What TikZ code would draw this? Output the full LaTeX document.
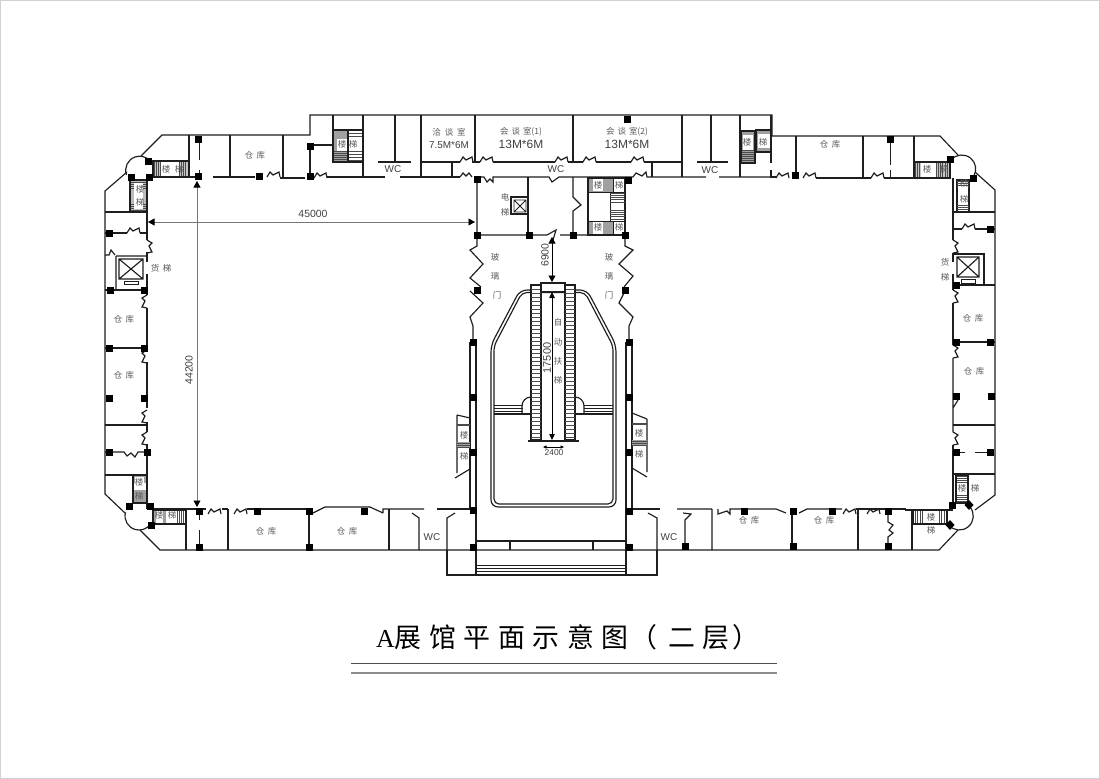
\documentclass[tikz,border=0pt]{standalone}
\usetikzlibrary{arrows.meta}
\usepackage{fontspec}
\setmainfont{Liberation Sans}
\newfontfamily\cjk{Noto Sans CJK SC}
\newfontfamily\cjktitle[LetterSpace=28]{Noto Sans CJK SC}
\newfontfamily\serifA{Liberation Serif}
\definecolor{ink}{HTML}{1E1E1E}
\definecolor{txt}{HTML}{5A5A5A}
\definecolor{dim}{HTML}{777777}
\definecolor{stairgray}{HTML}{A0A0A0}
\tikzset{
 wall/.style={draw=ink,line width=1.15bp,line join=miter},
 thin wall/.style={draw=ink,line width=0.8bp},
 dimline/.style={draw=dim,line width=0.8bp},
 tread/.style={draw=ink!80,line width=0.45bp},
 lab/.style={inner sep=0pt,text=txt,font=\fontsize{8.5}{9}\selectfont\cjk},
 labn/.style={inner sep=0pt,text=black!75,font=\fontsize{10}{10}\selectfont},
 labd/.style={inner sep=0pt,text=black!75,font=\fontsize{10.5}{10.5}\selectfont},
 labs/.style={inner sep=0pt,text=black!75,font=\fontsize{8.5}{9}\selectfont},
 labb/.style={inner sep=0pt,text=black!75,font=\fontsize{12}{12}\selectfont},
 bigtip/.style={-{Triangle[black,length=6.5bp,width=7bp]}},
}
\newcommand{\col}[2]{\fill[black] (#1-3.5,#2-3.5) rectangle ++(7,7);}
\newcommand{\hdoor}[3]{\draw[wall] (#1,#2) -- ++(3,-5*#3) -- ++(3,3*#3) -- ++(6,-3*#3) -- ++(1,5*#3);}
\newcommand{\vdoor}[3]{\draw[wall] (#1,#2) -- ++(-5*#3,3) -- ++(3*#3,3) -- ++(-3*#3,6) -- ++(5*#3,1);}
\newcommand{\hhatch}[5]{\foreach \yy in {#3,#5,...,#4} \draw[tread] (#1,\yy) -- (#2,\yy);}
\newcommand{\vhatch}[5]{\foreach \xx in {#1,#5,...,#2} \draw[tread] (\xx,#3) -- (\xx,#4);}
\newcommand{\ck}{仓\kern3.5bp 库}
\begin{document}
\begin{tikzpicture}[x=1bp,y=-1bp]
\useasboundingbox (0,0) rectangle (1100,779);
\fill[white] (0,0) rectangle (1100,779);
\draw[black!18,line width=0.8bp] (0.4,0.4) rectangle (1099.6,778.6);

% ---------- outer shell
\draw[wall] (127,172) -- (105,191) -- (105,494) -- (125,513);
\draw[wall] (141,156) -- (162,135) -- (310,135) -- (310,115) -- (772,115) -- (772,136) -- (940,136) -- (958,155);
\draw[wall] (975,172) -- (995,190) -- (995,495) -- (975,510);
\draw[wall] (958,530) -- (939,550) -- (160,550) -- (140,530);
% corner drums
\draw[wall] (126.5,175) arc[start angle=200,end angle=45,radius=14bp];
\draw[wall] (951,160) arc[start angle=140,end angle=-30,radius=14bp];
\draw[wall] (125.5,512.4) arc[start angle=165,end angle=323,radius=14bp];
\draw[wall] (970,507) arc[start angle=40,end angle=-140,radius=14bp];

% ---------- top-left wing
\draw[wall] (147,177) -- (198,177) (189,135) -- (189,177);
\fill[stairgray!60] (153,161) rectangle (189,177);
\vhatch{154}{164}{162}{176}{156.2}
\vhatch{179}{188}{162}{176}{181.2}
\fill[white] (161,162) rectangle (179,176);
\draw[wall] (153,161) rectangle (189,177);
\draw[thin wall] (199,139) -- (199,160) (199,170) -- (199,177);
\draw[wall] (213,177) -- (255,177) (230,135) -- (230,177) (283,135) -- (283,178);
\hdoor{267}{177}{1}
\draw[wall] (280,178) -- (305,178);
\draw[wall] (310,146) -- (310,177) (310,145) -- (333,145);
\hdoor{314}{178}{1}
\draw[wall] (327,177) -- (385,177) (400,177) -- (460,177);
\draw[wall] (333,115) -- (333,162) (363,115) -- (363,177) (395,115) -- (395,162) (378,162) -- (411,162) (421,115) -- (421,177);
\fill[stairgray] (333,130) rectangle (348,162);
\hhatch{348}{363}{130}{162}{133}
\fill[white] (337,139) rectangle (347,151);
\fill[white] (349,139) rectangle (362,151);
\hhatch{333}{348}{151}{162}{153}
\draw[wall] (333,130) rectangle (348,162) (348,130) rectangle (363,162);

% ---------- central top band
\draw[wall] (421,162) -- (460,162) (472,162) -- (480,162) (493,162) -- (555,162) (568,162) -- (583,162) (596,162) -- (631,162) (644,162) -- (682,162);
\hdoor{460}{162}{1}
\hdoor{480}{162}{1}
\hdoor{555}{162}{1}
\hdoor{583}{162}{1}
\hdoor{631}{162}{1}
\draw[wall] (452,162) -- (452,177) (475,115) -- (475,162) (573,115) -- (573,162) (682,115) -- (682,177) (652,162) -- (652,177);
\draw[wall] (460,177) -- ++(3,-4) -- ++(3,3) -- ++(3,-3) -- (472,177) (477,177) -- (484,177);
\draw[wall] (484,177) -- ++(3,5) -- ++(3,-3) -- ++(3,3) -- (493,177) -- (549,177) -- ++(3,5) -- ++(7,-5) -- (633,177);
\draw[wall] (633,177) -- ++(3,-4) -- ++(6,3) -- ++(4,-4) -- (647,177) -- (706,177) (719,177) -- (771,177);

% central block
\draw[wall] (477,177) -- (477,235) -- (547,235) -- (556,230) -- (553,240) (560,235) -- (625,235) -- (625,177);
\draw[wall] (528,177) -- (528,235);
\draw[wall] (573,177) -- (573,197) -- (581,205) -- (573,211) -- (573,235);
\draw[wall] (511,197) rectangle (528,214);
\draw[thin wall] (514,200) rectangle (526,212) (514,200) -- (526,212) (526,200) -- (514,212);
% central stair
\fill[stairgray] (588,178) rectangle (613,192);
\fill[stairgray] (588,221) rectangle (613,235);
\draw[wall] (588,178) rectangle (625,235);
\draw[thin wall] (613,178) -- (613,192) (613,221) -- (613,235) (610,192) -- (610,221) (588,192) -- (625,192) (588,221) -- (625,221);
\hhatch{610}{625}{193}{203}{195.2}
\hhatch{610}{625}{210}{220}{212.2}
\fill[white] (593,179) rectangle (603,191);
\fill[white] (593,222) rectangle (603,234);

% glazed doors
\draw[wall] (477,235) -- (477,246) -- (470,250) -- (483,264) -- (470,278) -- (481,287);
\draw[wall] (470,291) -- (483,303) -- (470,317) -- (473,326) -- (473,342);
\draw[wall] (625,235) -- (625,246) -- (633,250) -- (619,264) -- (633,276) -- (624,287);
\draw[wall] (625,291) -- (619,303) -- (633,317) -- (629,326) -- (629,342);

% central double piers
\draw[wall] (470,342) -- (470,510) (476,342) -- (476,575);
\draw[wall] (626,342) -- (626,575) (632,342) -- (632,510);
\draw[wall] (447,550) -- (447,575) -- (657,575) -- (657,550);
\draw[wall] (476,541) -- (626,541) (510,541) -- (510,550) (593,541) -- (593,550);
\draw[thin wall] (476,565) -- (626,565) (476,568) -- (626,568) (476,571) -- (626,571);

% hall double outline
\draw[wall,rounded corners=7bp] (491,345) -- (491,507) -- (616,507) -- (616,345) -- (587,290) -- (520,290) -- cycle;
\draw[wall,rounded corners=5bp] (494,346) -- (494,504) -- (613,504) -- (613,346) -- (585,292.5) -- (522,292.5) -- cycle;
% escalator
\fill[white] (531,285) rectangle (541,440) (565,285) rectangle (575,440);
\draw[wall] (531,285) rectangle (541,440) (565,285) rectangle (575,440);
\foreach \yy in {289,293,...,437} {\draw[tread,line width=0.9bp] (531,\yy) -- (541,\yy) (565,\yy) -- (575,\yy);}
\fill[white] (541,283) rectangle (565,292);
\draw[wall] (541,283) rectangle (565,292);
\draw[wall] (528,441) -- (579,441);
% landings
\foreach \yy in {405,408,411} {\draw[thin wall] (494,\yy) -- (523,\yy) (584,\yy) -- (613,\yy);}
\draw[wall] (494,414) -- (531,414) (575,414) -- (613,414);
\draw[wall] (531,397) arc[start angle=90,end angle=180,radius=9bp] -- (522,414);
\draw[wall] (575,397) arc[start angle=90,end angle=0,radius=9bp] -- (584,414);
% side stairs
\draw[wall] (457,415) -- (470,418) (457,415) -- (457,473) (455,478) -- (470,469);
\hhatch{457}{470}{424}{427}{425.6}
\fill[stairgray] (457,442) rectangle (470,448);
\hhatch{457}{470}{443}{447}{445}
\draw[wall] (647,419) -- (632,413) (647,419) -- (647,472) (647,477) -- (632,468);
\hhatch{632}{647}{423}{426}{424.6}
\fill[stairgray] (632,440) rectangle (647,446);
\hhatch{632}{647}{441}{445}{443}

% ---------- top-right wing
\draw[wall] (771,115) -- (771,163) (740,115) -- (740,177);
\fill[stairgray] (741,131) rectangle (755,163);
\fill[stairgray] (756,130) rectangle (771,152);
\hhatch{741}{755}{150}{163}{152}
\fill[white] (743,135) rectangle (753,150);
\fill[white] (758,134) rectangle (770,148);
\draw[wall] (741,131) rectangle (755,163) (756,130) rectangle (771,152);
\draw[wall] (711,115) -- (711,162) (697,162) -- (728,162);
\draw[wall] (771,170) -- (771,177) -- (776,177);
\hdoor{776}{178}{1}
\draw[wall] (796,136) -- (796,178);
\hdoor{803}{178}{1}
\draw[wall] (816,178) -- (871,178);
\hdoor{871}{178}{1}
\draw[wall] (884,178) -- (914,178) (863,136) -- (863,178);
\draw[thin wall] (890,139) -- (890,165) (890,170) -- (890,178);
\draw[wall] (914,136) -- (914,178);
\fill[stairgray!60] (914,162) rectangle (950,178);
\vhatch{915}{922}{163}{177}{917.2}
\vhatch{936}{949}{163}{177}{938.2}
\fill[white] (921,163) rectangle (936,177);
\draw[wall] (914,162) rectangle (950,178);

% ---------- right wing
\draw[wall] (953,178) -- (953,240);
\vdoor{953}{240}{-1}
\draw[wall] (953,253) -- (953,262) (953,274) -- (953,290);
\vdoor{953}{290}{-1}
\draw[wall] (953,303) -- (953,345);
\vdoor{953}{345}{-1}
\draw[wall] (953,358) -- (953,408) (953,408) -- (958,400) (953,408) -- (953,432);
\vdoor{953}{432}{-1}
\draw[wall] (953,445) -- (953,509);
\draw[wall] (957,180) rectangle (969,212);
\hhatch{957}{969}{181}{187}{183}
\hhatch{957}{969}{205}{212}{207}
\fill[white] (958,187) rectangle (968,205);
\draw[wall] (953,212) -- (995,212);
\draw[wall] (953,229) -- (962,229);
\hdoor{962}{229}{1}
\draw[wall] (975,229) -- (995,229);
\draw[wall] (953,254) -- (984,254) -- (984,285) (953,285) -- (995,285);
\draw[wall] (957,257) rectangle (979,277) (957,257) -- (979,277) (979,257) -- (957,277);
\draw[thin wall] (961,279) rectangle (975,283);
\draw[wall] (953,342) -- (995,342) (953,425) -- (995,425) (953,474) -- (995,474);
\draw[thin wall] (960,452) -- (965,452) (975,452) -- (990,452);
\hhatch{956}{968}{476}{483}{478}
\hhatch{956}{968}{495}{503}{497}
\fill[white] (957,483) rectangle (967,495);
\draw[wall] (956,475) rectangle (968,503);

% ---------- bottom-right wing
\draw[wall] (677,509) -- (712,509) (712,509) -- (712,550) (718,509) -- (718,514) -- (727,511) -- (730,514) -- (730,509) -- (776,509) -- (786,513);
\draw[wall] (799,513) -- (807,509) -- (842,509);
\hdoor{843}{514}{1}
\draw[wall] (856,509) -- (906,509) (858,509) -- (858,550);
\draw[wall] (792,509) -- (792,550);
\draw[wall] (905,510) -- (953,510);
\draw[wall] (888,515) -- (888,522) -- (893,525) -- (889,530) -- (893,533) -- (888,537) -- (888,550);
\hdoor{867}{514}{1}
\draw[wall] (912,510) -- (912,550);
\vhatch{915}{924}{511}{523}{917.4}
\vhatch{939}{947}{511}{523}{941.4}
\fill[white] (925,511) rectangle (938,523);
\draw[wall] (913,510) rectangle (947,524);

% ---------- bottom centre WC
\draw[wall] (632,509) -- (660,509);
\draw[wall] (648,513) -- (657,518) -- (657,550);
\draw[wall] (683,513) -- (691,514) -- (685,520) -- (685,550);
\draw[wall] (437,509) -- (470,509);
\draw[wall] (455,513) -- (447,518) -- (447,550);
\draw[wall] (412,513) -- (419,518) -- (419,550);

% ---------- bottom-left wing
\draw[wall] (147,509) -- (206,509);
\hdoor{208}{514}{1}
\draw[wall] (222,509) -- (228,509);
\hdoor{234}{514}{1}
\draw[wall] (247,509) -- (306,509) (228,509) -- (228,550) (309,509) -- (309,550);
\draw[wall] (313,513) -- (325,507) -- (370,507) -- (383,513) (383,513) -- (383,509) -- (424,509);
\draw[wall] (389,509) -- (389,550);
\fill[stairgray] (154,511) rectangle (166,523);
\vhatch{177}{186}{511}{523}{179}
\fill[white] (156,511) rectangle (163,523);
\fill[white] (167,511) rectangle (177,523);
\draw[wall] (153,510) rectangle (186,524);
\draw[wall] (186,524) -- (186,550);
\draw[thin wall] (199,515) -- (199,520) (199,530) -- (199,547);

% ---------- left wing
\draw[wall] (147,180) -- (147,240);
\vdoor{147}{240}{-1}
\draw[wall] (147,252) -- (147,262) (147,274) -- (147,295);
\vdoor{147}{295}{1}
\draw[wall] (147,308) -- (147,350);
\vdoor{147}{350}{1}
\draw[wall] (147,362) -- (147,408);
\vdoor{147}{410}{1}
\draw[wall] (147,422) -- (147,432);
\vdoor{147}{432}{1}
\draw[wall] (147,444) -- (147,509);
\draw[wall] (105,212) -- (147,212);
\fill[stairgray!70] (131,181) rectangle (146,211);
\hhatch{131}{146}{182}{189}{184}
\hhatch{131}{146}{204}{211}{206}
\fill[white] (134,183) rectangle (143,209);
\draw[wall] (130,180) rectangle (147,212);
\draw[wall] (105,233) -- (127,233);
\hdoor{127}{233}{1}
\draw[wall] (140,233) -- (147,233);
\draw[wall] (105,255) -- (109,255) -- (111,250) -- (115,255) (116,256) -- (116,290) (116,256) -- (147,256);
\draw[wall] (119,259) rectangle (143,279) (119,259) -- (143,279) (143,259) -- (119,279);
\draw[thin wall] (124,281) rectangle (138,284);
\draw[wall] (105,290) -- (147,290) (105,348) -- (147,348) (105,425) -- (147,425) (105,475) -- (147,475);
\draw[wall] (105,452) -- (124,452) -- (127,456) -- (131,453) -- (135,457) -- (138,452) -- (147,452);
\fill[stairgray] (133,475) rectangle (147,503);
\vhatch{134}{146}{483}{490}{136}
\fill[white] (135,477) rectangle (144,483);
\fill[white] (133,483) rectangle (147,490);
\draw[wall] (133,475) rectangle (147,503);

% ---------- columns
\foreach \p/\q in {198/139,198/176,259/176,310/146,310/176,148/161,131/177,149/177,
  109/233,110/290,144/290,109/348,144/348,109/398,144/398,109/452,147/452,
  129/506,150/506,151/525,199/511,199/547,257/511,309/511,309/547,364/511,
  477/179,477/235,529/235,573/235,625/235,628/180,627.5/119,477/290,625/290,
  473/342,473/397,473/452,473/510,473/547,629/342,629/397,629/452,629/511,629/547,
  795/175,890/139,950/159,973/178,956/285,990/229,956/342,990/342,956/396,991/396,956/452,990/452,952/505,
  685/546,744/511,793/511,793/546,832/511,888/511,888/546}
 {\col{\p}{\q}}
\fill[black] (969,500) -- (973.5,505) -- (969,510) -- (964.5,505) -- cycle;
\fill[black] (950,520) -- (954.5,525) -- (950,530) -- (945.5,525) -- cycle;

% ---------- dimensions
\coordinate (mw) at (300,222);
\coordinate (mh) at (197,300);
\draw[dimline,bigtip] (mw) -- (475,222);
\draw[dimline,bigtip] (mw) -- (148,222);
\draw[dimline,bigtip] (mh) -- (197,181);
\draw[dimline,bigtip] (mh) -- (197,507);
\draw[draw=black,line width=0.8bp,{Triangle[black,length=6.5bp,width=7bp]}-{Triangle[black,length=6.5bp,width=7bp]}] (552,237) -- (552,282);
\draw[draw=black,line width=0.8bp,{Triangle[black,length=6bp,width=5.5bp]}-{Triangle[black,length=6bp,width=5.5bp]}] (552,292) -- (552,440);
\draw[draw=black,line width=0.7bp,{Triangle[black,length=3.5bp,width=3bp]}-{Triangle[black,length=3.5bp,width=3bp]}] (543,447) -- (564,447);

\node[labd] (dimw) at (313,214) {45000};
\node[labd,rotate=90] (dimh) at (189,370) {44200};
\node[labd,rotate=90] (dimd) at (545,255) {6900};
\node[labb,font=\fontsize{11}{11}\selectfont,rotate=90] (dime) at (547,358) {17500};
\node[labs] (dims) at (554,453) {2400};

% ---------- labels
\node[labn] (wc1) at (393,169) {WC};
\node[labn] (wc2) at (556,169) {WC};
\node[labn] (wc3) at (710,170) {WC};
\node[labn] (wc4) at (432,537) {WC};
\node[labn] (wc5) at (669,537) {WC};
\node[lab] (r1) at (449,132) {洽\kern4bp 谈\kern4bp 室};
\node[labn] (r1b) at (449,145) {7.5M*6M};
\node[lab] (r2) at (521,132) {会\kern3bp 谈\kern3bp 室(1)};
\node[labb] (r2b) at (521,144) {13M*6M};
\node[lab] (r3) at (627,132) {会\kern3bp 谈\kern3bp 室(2)};
\node[labb] (r3b) at (627,144) {13M*6M};
\foreach \nm/\a/\b in {w1/255/155,w2/830/144,w3/124/319,w4/124/375,w5/266/531,w6/347/531,w7/749/520,w8/824/520,w9/973/318,w10/974/371}
 {\node[lab] (\nm) at (\a,\b) {\ck};}
\foreach \nm/\a/\b/\t in {a1/166/169/楼,a2/179/169/梯,a3/140/189/楼,a4/140/202/梯,a5/342/144/楼,a6/353/144/梯,
  a7/747/142/楼,a8/763/142/梯,a9/598/185/楼,a10/619/185/梯,a11/598/227/楼,a12/619/227/梯,
  a13/159/515/楼,a14/172/515/梯,a15/139/482/楼,a16/139/496/梯,a17/464/435/楼,a18/464/456/梯,a19/639/433/楼,a20/639/454/梯,
  a21/927/169/楼,a22/944/169/梯,a23/964/183/楼,a24/964/199/梯,a25/962/488/楼,a26/975/488/梯,a27/931/517/楼,a28/931/530/梯,
  b1/505/197/电,b2/505/212/梯,b3/155/268/货,b4/167/268/梯,b5/945/262/货,b6/945/277/梯,
  c1/495/257/玻,c2/495/276/璃,c3/497/295/门,c4/609/257/玻,c5/609/276/璃,c6/609/295/门,
  d1/558/322/自,d2/558/342/动,d3/558/361/扶,d4/558/380/梯}
 {\node[lab] (\nm) at (\a,\b) {\t};}

% ---------- title
\node[inner sep=0pt,anchor=base west,text=black,font=\fontsize{27}{27}\selectfont] (title) at (376,647)
 {{\serifA\fontsize{26}{26}\selectfont A}{\cjktitle 展馆平面示意图\kern2bp （\kern11bp 二层\kern3bp ）}};
\draw[black!70,line width=0.9bp] (351,663) -- (777,663);
\draw[black!45,line width=1.3bp] (351,673) -- (777,673);
\end{tikzpicture}
\end{document}
